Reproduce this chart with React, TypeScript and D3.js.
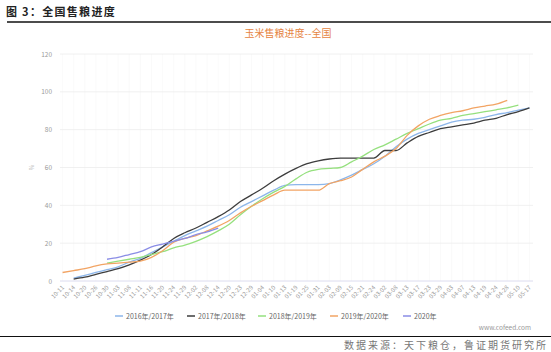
import React from "react";
import * as d3 from "d3";

// category dates on the x axis
const dates = [
  "10-11", "10-14", "10-20", "10-26", "10-30", "11-03", "11-08", "11-11", "11-16", "11-20",
  "11-24", "11-29", "12-02", "12-08", "12-14", "12-20", "12-23", "12-29", "01-04", "01-10",
  "01-13", "01-19", "01-25", "01-31", "02-03", "02-09", "02-15", "02-21", "02-24", "03-02",
  "03-08", "03-13", "03-17", "03-23", "03-29", "04-03", "04-07", "04-13", "04-19", "04-24",
  "04-28", "05-10", "05-17",
];

type V = number | null;
const _ = null;

// 2016/2017
const s1617: V[] = [
  _, 1.5, 3, 4.5, 6, 7.5, 10, 12, 15, 18,
  21, 24, 26.5, 29, 32, 35, 39, 42, 45, 48,
  50.5, 51, 51, 51, 51.5, 53.5, 56, 59, 62, 66,
  71, 75, 78, 80, 82, 84, 85, 85.5, 86.5, 88,
  89, 90.3, 91.5,
];
// 2017/2018
const s1718: V[] = [
  _, 1, 2, 3.5, 5, 6.5, 8.5, 11, 14, 18,
  22.5, 25.5, 28, 31, 34, 37.5, 42, 45.5, 49, 53,
  56.5, 59.5, 62, 63.5, 64.5, 65, 65, 65, 65, 69,
  69, 73, 76.5, 78.5, 80.5, 81.5, 82.5, 83.5, 85, 86,
  88, 89.5, 91.5,
];
// 2018/2019
const s1819: V[] = [
  _, _, _, _, 9.5, 10.5, 11.5, 12.5, 14, 15.5,
  17.5, 19, 21, 23.5, 26.5, 30, 35, 39.5, 43.5, 47,
  50, 54, 57.5, 59, 59.5, 60, 63, 66, 69.5, 72,
  75, 78, 80.5, 83, 85, 86, 87.5, 88.5, 89.5, 90.5,
  91.5, 93, _,
];
// 2019/2020
const s1920: V[] = [
  4.5, 5.5, 6.5, 8, 9, 9.5, 10, 10.5, 12.5, 16,
  20.5, 22.5, 24, 26.5, 29, 32, 36, 39.5, 42.5, 45.5,
  48, 48, 48, 48, 51.5, 53, 55, 59, 63, 66,
  70, 77, 82, 85.5, 87.5, 89, 90, 91.5, 92.5, 93.5,
  95.5, _, _,
];
// 2020
const s2020: V[] = [
  _, _, _, _, 11.5, 12.5, 14, 15.5, 18, 19.5,
  21, 22.5, 24.5, 26, 28, _, _, _, _, _,
  _, _, _, _, _, _, _, _, _, _,
  _, _, _, _, _, _, _, _, _, _,
  _, _, _,
];

const seriesNames = ["2016年/2017年", "2017年/2018年", "2018年/2019年", "2019年/2020年", "2020年"];
const seriesValues = [s1617, s1718, s1819, s1920, s2020];
const seriesColors = ["#8cb6ea", "#3d3d3d", "#95e07e", "#f2a464", "#8a8de6"];
const yTicks = [0, 20, 40, 60, 80, 100, 120];

const W = 551;
const H = 352;
const margin = { left: 57, right: 16, top: 54, bottom: 71 };

export default function App() {
  const x = d3
    .scalePoint<string>()
    .domain(dates)
    .range([margin.left, W - margin.right])
    .padding(0.5);
  const y = d3.scaleLinear().domain([0, 120]).range([H - margin.bottom, margin.top]);

  const line = d3
    .line<V>()
    .defined((d) => d !== null)
    .x((_d, i) => x(dates[i]) as number)
    .y((d) => y(d as number))
    .curve(d3.curveMonotoneX);

  const legendX = [115, 187, 258, 330, 403];
  const grey = "#9a9a9a";

  return (
    <svg
      width={W}
      height={H}
      style={{ position: "absolute", left: 0, top: 0, background: "#fff" }}
      fontFamily="'Noto Sans CJK SC', 'Noto Sans', sans-serif"
    >
      {/* header */}
      <text x={6} y={16} fontSize={11} fontWeight="bold" fill="#222" letterSpacing={1.3}>
        图 3：全国售粮进度
      </text>
      <line x1={7} x2={W} y1={22} y2={22} stroke="#111" strokeWidth={1.3} />

      {/* chart title */}
      <text x={288} y={37} fontSize={10} textAnchor="middle" fill="#e6843f">
        玉米售粮进度--全国
      </text>

      {/* vertical faint grid */}
      {dates.map((d) => (
        <line
          key={"v" + d}
          x1={x(d)}
          x2={x(d)}
          y1={margin.top}
          y2={H - margin.bottom}
          stroke="#f6f6f6"
          strokeWidth={0.6}
        />
      ))}
      {/* horizontal grid and y labels */}
      {yTicks.map((t) => (
        <g key={"y" + t}>
          <line
            x1={margin.left + 3}
            x2={W - margin.right - 2}
            y1={y(t)}
            y2={y(t)}
            stroke={t === 0 ? "#dcdcef" : "#ececec"}
            strokeWidth={t === 0 ? 1 : 0.8}
          />
          <text x={52} y={y(t) + 2.5} fontSize={6.5} fill={grey} textAnchor="end">
            {t}
          </text>
        </g>
      ))}
      <text
        x={0}
        y={0}
        fontSize={5.5}
        fill={grey}
        textAnchor="middle"
        transform={`translate(34,${y(60)}) rotate(-90)`}
      >
        %
      </text>

      {/* x labels */}
      {dates.map((d) => (
        <text
          key={"x" + d}
          fontSize={6}
          fill={grey}
          textAnchor="end"
          transform={`translate(${(x(d) as number) + 2},${H - margin.bottom + 7}) rotate(-45)`}
        >
          {d}
        </text>
      ))}

      {/* series */}
      {seriesValues.map((vals, i) => (
        <path
          key={"s" + i}
          d={line(vals) || ""}
          fill="none"
          stroke={seriesColors[i]}
          strokeWidth={1.3}
        />
      ))}

      {/* legend */}
      {seriesNames.map((n, i) => (
        <g key={"l" + n}>
          <line
            x1={legendX[i]}
            x2={legendX[i] + 8}
            y1={316}
            y2={316}
            stroke={seriesColors[i]}
            strokeWidth={1.5}
          />
          <text x={legendX[i] + 11} y={318.5} fontSize={7} fill="#666">
            {n}
          </text>
        </g>
      ))}

      {/* footer */}
      <text x={531} y={330} fontSize={6.5} fill="#999" textAnchor="end">
        www.cofeed.com
      </text>
      <line x1={0} x2={W} y1={336.5} y2={336.5} stroke="#111" strokeWidth={1} />
      <text x={548} y={349} fontSize={10} fill="#777" textAnchor="end" letterSpacing={2}>
        数据来源：天下粮仓，鲁证期货研究所
      </text>
    </svg>
  );
}
